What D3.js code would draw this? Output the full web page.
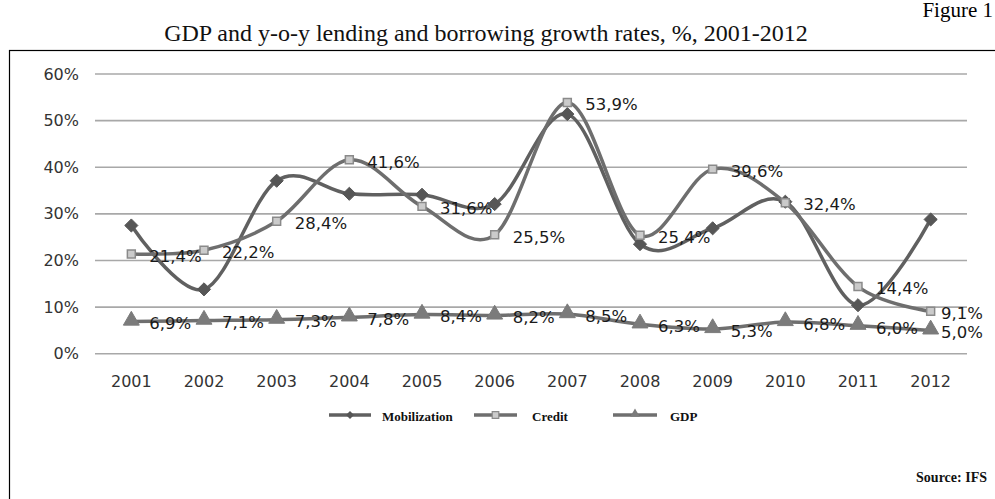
<!DOCTYPE html>
<html>
<head>
<meta charset="utf-8">
<script src="https://cdn.jsdelivr.net/npm/d3@7"></script>
<style>
  body { margin: 0; background: #fff; }
  svg { display: block; }
</style>
</head>
<body>
<svg id="chart" width="995" height="499"></svg>
<script>
// data
var years = ["2001","2002","2003","2004","2005","2006","2007","2008","2009","2010","2011","2012"];
var mobilization = [27.5, 13.8, 37.1, 34.3, 34.1, 32.1, 51.4, 23.5, 26.9, 32.6, 10.4, 28.8];
var credit = [21.4, 22.2, 28.4, 41.6, 31.6, 25.5, 53.9, 25.4, 39.6, 32.4, 14.4, 9.1];
var gdp = [6.9, 7.1, 7.3, 7.8, 8.4, 8.2, 8.5, 6.3, 5.3, 6.8, 6.0, 5.0];
var yTicks = [0, 10, 20, 30, 40, 50, 60];

var svg = d3.select("#chart");

var x = d3.scalePoint().domain(years).range([95, 967]).padding(0.5);
var y = d3.scaleLinear().domain([0, 60]).range([353.7, 74]);

// frame
svg.append("rect")
  .attr("x", 9.5).attr("y", 50.5)
  .attr("width", 1000).attr("height", 500)
  .attr("fill", "none").attr("stroke", "#000").attr("stroke-width", 1.2);

// titles
svg.append("text")
  .attr("x", 993).attr("y", 17)
  .attr("text-anchor", "end")
  .style("font-family", "Liberation Serif")
  .style("font-size", "21px")
  .text("Figure 1");

svg.append("text")
  .attr("x", 486).attr("y", 41)
  .attr("text-anchor", "middle")
  .style("font-family", "Liberation Serif")
  .style("font-size", "24px")
  .attr("fill", "#111")
  .text("GDP and y-o-y lending and borrowing growth rates, %, 2001-2012");

// grid
svg.append("g")
  .selectAll("line")
  .data(yTicks)
  .enter().append("line")
    .attr("x1", 95).attr("x2", 967)
    .attr("y1", function(d){ return y(d); })
    .attr("y2", function(d){ return y(d); })
    .attr("stroke", "#a8a8a8")
    .attr("stroke-width", 1.6);

// y axis labels
svg.append("g")
  .selectAll("text")
  .data(yTicks)
  .enter().append("text")
    .attr("x", 79)
    .attr("y", function(d){ return y(d); })
    .attr("dy", "0.35em")
    .attr("text-anchor", "end")
    .attr("fill", "#333")
    .style("font-family", "DejaVu Sans")
    .style("font-size", "16px")
    .text(function(d){ return d + "%"; });

// x axis labels
svg.append("g")
  .selectAll("text")
  .data(years)
  .enter().append("text")
    .attr("x", function(d){ return x(d); })
    .attr("y", 387)
    .attr("text-anchor", "middle")
    .attr("fill", "#333")
    .style("font-family", "DejaVu Sans")
    .style("font-size", "16px")
    .text(function(d){ return d; });

var line = d3.line()
  .x(function(d, i){ return x(years[i]); })
  .y(function(d){ return y(d); })
  .curve(d3.curveCardinal.tension(0));

function fmt(v){ return v.toFixed(1).replace(".", ",") + "%"; }

var diamond = d3.symbol().type(d3.symbolDiamond2).size(110);
var square = d3.symbol().type(d3.symbolSquare2).size(80);
var triangle = d3.symbol().type(d3.symbolTriangle).size(110);

function drawMarker(g, type, cx, cy){
  if (type == "diamond")
    g.append("path").attr("d", diamond()).attr("transform", "translate(" + cx + "," + cy + ")")
      .attr("fill", "#565656").attr("stroke", "#565656").attr("stroke-width", 1);
  if (type == "square")
    g.append("path").attr("d", square()).attr("transform", "translate(" + cx + "," + cy + ")")
      .attr("fill", "#cbcbcb").attr("stroke", "#8a8a8a").attr("stroke-width", 1.5);
  if (type == "triangle")
    g.append("path").attr("d", triangle()).attr("transform", "translate(" + cx + "," + (cy - 1) + ")")
      .attr("fill", "#7b7b7b").attr("stroke", "#7b7b7b").attr("stroke-width", 1);
}

function drawSeries(values, color, width, type, labels){
  var g = svg.append("g");
  g.append("path")
    .datum(values)
    .attr("d", line)
    .attr("fill", "none")
    .attr("stroke", color)
    .attr("stroke-width", width);
  values.forEach(function(v, i){
    drawMarker(g, type, x(years[i]), y(v));
  });
  if (labels) {
    values.forEach(function(v, i){
      var t = g.append("text")
        .attr("x", x(years[i]) + 18)
        .attr("y", y(v) + 2)
        .attr("dy", "0.35em")
        .attr("fill", "#1a1a1a")
        .style("font-family", "DejaVu Sans")
        .style("font-size", "16.5px")
        .text(fmt(v));
      var w = t.node().getComputedTextLength();
      if (x(years[i]) + 18 + w > 983) t.attr("x", 983 - w);
    });
  }
}

drawSeries(mobilization, "#606060", 3.5, "diamond", false);
drawSeries(credit, "#6e6e6e", 3.5, "square", true);
drawSeries(gdp, "#6f6f6f", 3.5, "triangle", true);

// legend
var legend = [
  {name: "Mobilization", type: "diamond", color: "#606060", x0: 329, x1: 371, tx: 382},
  {name: "Credit", type: "square", color: "#6e6e6e", x0: 474, x1: 517, tx: 532},
  {name: "GDP", type: "triangle", color: "#6f6f6f", x0: 613, x1: 657, tx: 670}
];
var lg = svg.append("g");
legend.forEach(function(d){
  lg.append("line")
    .attr("x1", d.x0).attr("x2", d.x1)
    .attr("y1", 415).attr("y2", 415)
    .attr("stroke", d.color).attr("stroke-width", 3.5);
  var cx = (d.x0 + d.x1) / 2;
  if (d.type == "diamond")
    lg.append("path").attr("d", d3.symbol().type(d3.symbolDiamond2).size(40)())
      .attr("transform", "translate(" + cx + ",415)").attr("fill", "#565656");
  if (d.type == "square")
    lg.append("path").attr("d", d3.symbol().type(d3.symbolSquare2).size(55)())
      .attr("transform", "translate(" + cx + ",415)").attr("fill", "#cbcbcb")
      .attr("stroke", "#8a8a8a").attr("stroke-width", 1.2);
  if (d.type == "triangle")
    lg.append("path").attr("d", d3.symbol().type(d3.symbolTriangle).size(40)())
      .attr("transform", "translate(" + cx + ",414)").attr("fill", "#7b7b7b");
  lg.append("text")
    .attr("x", d.tx).attr("y", 421)
    .style("font-family", "Liberation Serif")
    .style("font-size", "13px")
    .style("font-weight", "bold")
    .attr("fill", "#111")
    .text(d.name);
});

svg.append("text")
  .attr("x", 987).attr("y", 482)
  .attr("text-anchor", "end")
  .style("font-family", "Liberation Serif")
  .style("font-size", "14px")
  .style("font-weight", "bold")
  .attr("fill", "#111")
  .text("Source: IFS");
</script>
</body>
</html>
